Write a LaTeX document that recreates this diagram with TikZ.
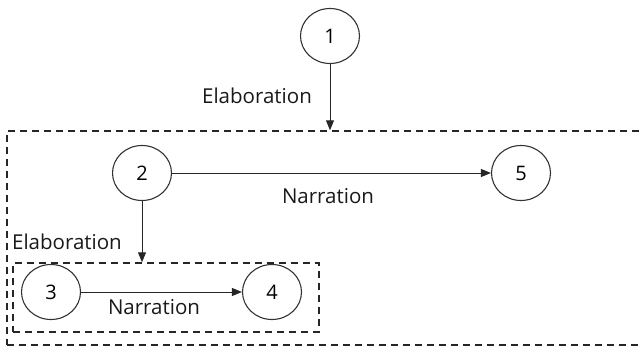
\documentclass[tikz,border=0pt]{standalone}
\usepackage{fontspec}
\setmainfont{Open Sans}
\usetikzlibrary{arrows.meta,shapes.geometric}
\begin{document}
\begin{tikzpicture}[x=1pt,y=-1pt,
  state/.style={ellipse,draw=black!80,line width=1.1pt,minimum width=59pt,minimum height=55pt,inner sep=0pt,font=\fontsize{20}{24}\selectfont},
  dashbox/.style={draw=black!85,dashed,dash pattern=on 7pt off 5pt,line width=1.4pt,rectangle,inner sep=0pt},
  conn/.style={draw=black!85,line width=1pt,-{Triangle[length=10pt,width=8pt]}},
  lbl/.style={font=\fontsize{20.5}{24}\selectfont,inner sep=0pt,text=black!90}]
\useasboundingbox (0,0) rectangle (640,348);
\clip (0,0) rectangle (640,348);
\node[dashbox,minimum width=653pt,minimum height=214pt] (outer) at (333.5,238) {};
\node[dashbox,minimum width=306pt,minimum height=69pt] (inner) at (166,297.5) {};
\node[state] (n1) at (330,36) {1};
\node[state] (n2) at (142,173) {2};
\node[state] (n3) at (51,292) {3};
\node[state] (n4) at (272,292) {4};
\node[state] (n5) at (521,173) {5};
\draw[conn] (n1) -- (n1 |- outer.north);
\draw[conn] (n2) -- (n2 |- inner.north);
\draw[conn] (n2) -- (n5);
\draw[conn] (n3) -- (n4);
\node[lbl] (l1) at (257,96) {Elaboration};
\node[lbl] (l2) at (67,242) {Elaboration};
\node[lbl] (l3) at (328,196) {Narration};
\node[lbl] (l4) at (154,307) {Narration};
\end{tikzpicture}
\end{document}
